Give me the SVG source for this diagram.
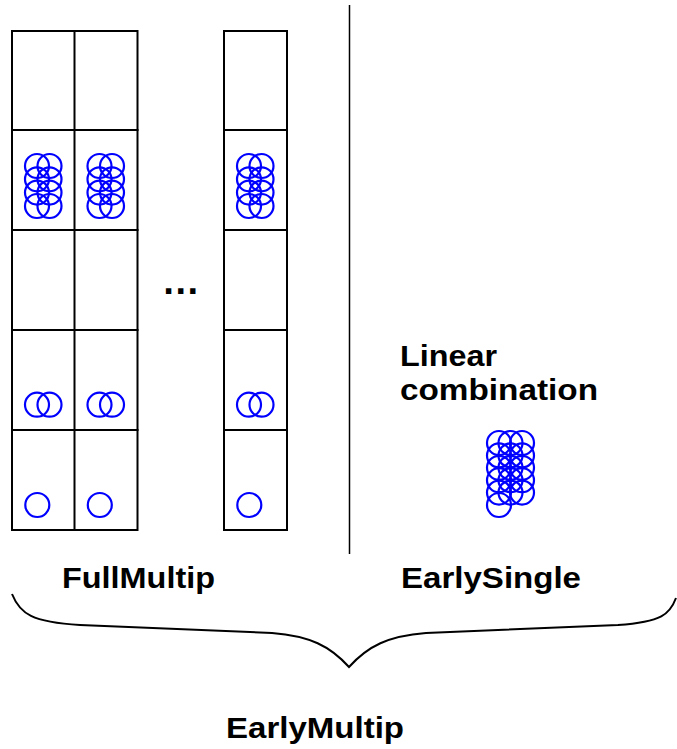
<svg xmlns="http://www.w3.org/2000/svg" width="677" height="749" viewBox="0 0 677 749">
<style>
.cell{fill:#fff;stroke:#000;stroke-width:2}
.c{fill:none;stroke:#0000ff;stroke-width:2.2}
.lbl{font-family:"Liberation Sans",Arial,sans-serif;font-weight:bold;font-size:30px;fill:#000}
.ln{fill:none;stroke:#000}
</style>
<defs>
<g id="big">
<circle class="c" cx="0" cy="0" r="12"/><circle class="c" cx="12.5" cy="0" r="12"/>
<circle class="c" cx="0" cy="13.3" r="12"/><circle class="c" cx="12.5" cy="13.3" r="12"/>
<circle class="c" cx="0" cy="26.6" r="12"/><circle class="c" cx="12.5" cy="26.6" r="12"/>
<circle class="c" cx="0" cy="40" r="12"/><circle class="c" cx="12.5" cy="40" r="12"/>
</g>
<g id="two">
<circle class="c" cx="0" cy="0" r="12"/><circle class="c" cx="12.5" cy="0" r="12"/>
</g>
<g id="one">
<circle class="c" cx="0" cy="0" r="12"/>
</g>
<g id="column">
<rect class="cell" x="0" y="0" width="63" height="99"/>
<rect class="cell" x="0" y="99" width="63" height="100"/>
<rect class="cell" x="0" y="199" width="63" height="100"/>
<rect class="cell" x="0" y="299" width="63" height="100"/>
<rect class="cell" x="0" y="399" width="63" height="100"/>
<use href="#big" x="25" y="135"/>
<use href="#two" x="25" y="373.7"/>
<use href="#one" x="25.3" y="474"/>
</g>
</defs>
<g id="col1"><use href="#column" x="12" y="31"/></g>
<g id="col2"><use href="#column" x="74.5" y="31"/></g>
<g id="col3"><use href="#column" x="224" y="31"/></g>
<g id="ellipsis"><text class="lbl" x="180.7" y="293.5" text-anchor="middle" style="font-size:38px">…</text></g>
<g id="combo">
<circle class="c" cx="499" cy="443" r="12"/><circle class="c" cx="510.5" cy="443" r="12"/><circle class="c" cx="522" cy="443" r="12"/>
<circle class="c" cx="499" cy="455.4" r="12"/><circle class="c" cx="510.5" cy="455.4" r="12"/><circle class="c" cx="522" cy="455.4" r="12"/>
<circle class="c" cx="499" cy="467.8" r="12"/><circle class="c" cx="510.5" cy="467.8" r="12"/><circle class="c" cx="522" cy="467.8" r="12"/>
<circle class="c" cx="499" cy="480.2" r="12"/><circle class="c" cx="510.5" cy="480.2" r="12"/><circle class="c" cx="522" cy="480.2" r="12"/>
<circle class="c" cx="499" cy="492.6" r="12"/><circle class="c" cx="510.5" cy="492.6" r="12"/><circle class="c" cx="522" cy="492.6" r="12"/>
<circle class="c" cx="499" cy="505" r="12"/>
</g>
<g id="labels">
<text class="lbl" x="400" y="366" textLength="97" lengthAdjust="spacingAndGlyphs">Linear</text>
<text class="lbl" x="400" y="400" textLength="198" lengthAdjust="spacingAndGlyphs">combination</text>
<text class="lbl" x="62" y="588" textLength="153" lengthAdjust="spacingAndGlyphs">FullMultip</text>
<text class="lbl" x="401" y="588" textLength="180" lengthAdjust="spacingAndGlyphs">EarlySingle</text>
<text class="lbl" x="226" y="738" textLength="178" lengthAdjust="spacingAndGlyphs">EarlyMultip</text>
</g>
<g id="connectors">
<line class="ln" x1="349.5" y1="5" x2="349.5" y2="554" stroke-width="1.5"/>
<path class="ln" stroke-width="2" d="M12,594 C20,614 32,622 80,625 L 272,633 C 310,636 330,646 349,667 C 368,646 388,636 426,633 L 618,625 C 662,622 670,614 676,598"/>
</g>
</svg>
